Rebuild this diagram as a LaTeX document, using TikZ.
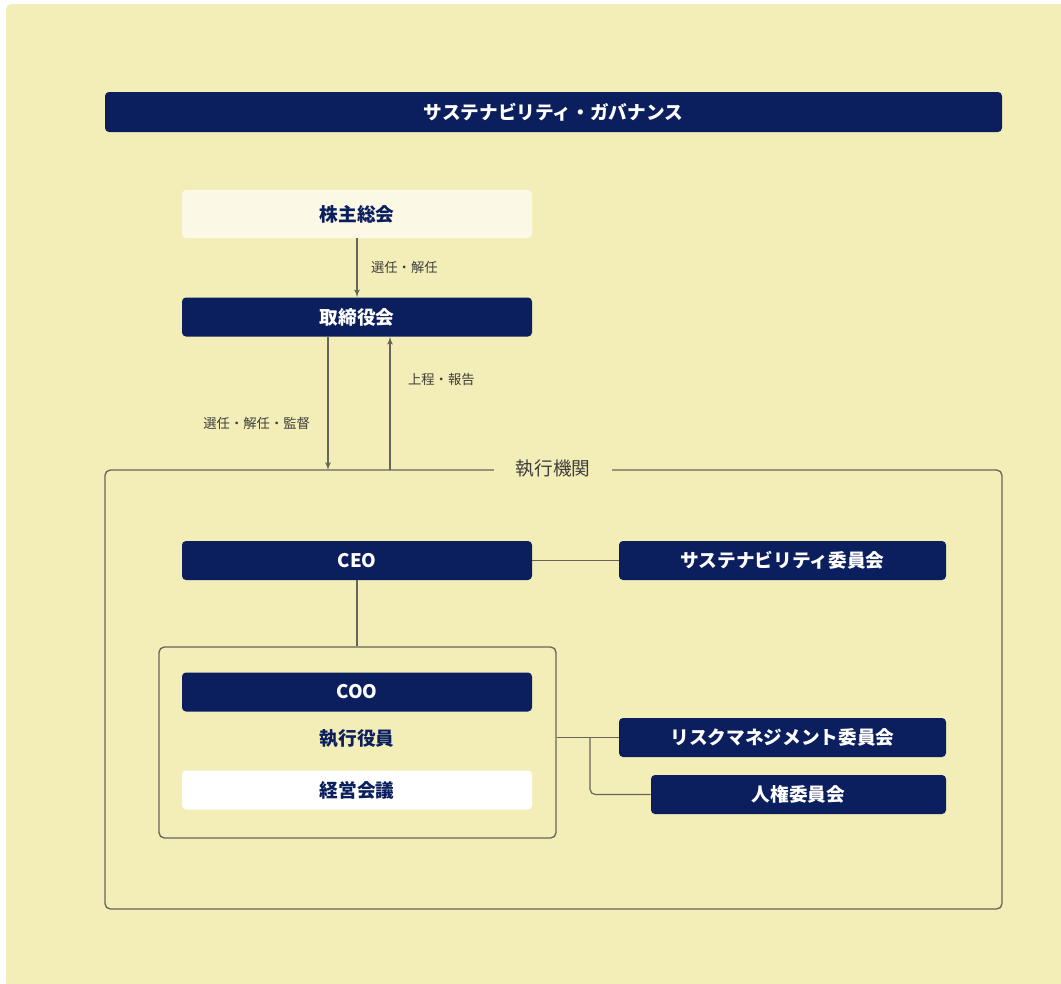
\documentclass[tikz,border=0pt]{standalone}
\usepackage{fontspec}
\setmainfont{Noto Sans CJK JP}
\usetikzlibrary{shapes,arrows,positioning}

\definecolor{navy}{HTML}{0B1F5E}
\definecolor{panel}{HTML}{F3EEB7}
\definecolor{cream}{HTML}{FBF8E6}
\definecolor{wire}{HTML}{66655A}
\definecolor{note}{HTML}{3E3E3C}

\begin{document}
\begin{tikzpicture}[x=0.75pt, y=-0.75pt, auto]

    % Define block styles
    \tikzstyle{block} = [rectangle, fill=navy, text=white, font=\bfseries\fontsize{14}{16}\selectfont,
        rounded corners=3pt, minimum width=262.5pt, minimum height=29.25pt, inner sep=0pt]
    \tikzstyle{light} = [block, fill=cream, text=navy]
    \tikzstyle{frame} = [rectangle, draw=wire, line width=1pt, rounded corners=4pt, inner sep=0pt]
    \tikzstyle{line} = [draw=wire, line width=1pt, -latex']
    \tikzstyle{link} = [draw=wire, line width=0.9pt]
    \tikzstyle{lbl} = [font=\fontsize{10}{12}\selectfont, text=note, inner sep=0pt]

    % Background
    \useasboundingbox (0,0) rectangle (1061,983);
    \fill[white] (0,0) rectangle (1061,983);
    \fill[panel, rounded corners=4pt] (6,4) rectangle (1066,988);

    % Place nodes
    \node [block, minimum width=672.75pt, minimum height=30pt] (title) at (553.5,112) {サステナビリティ・ガバナンス};
    \node [light, minimum height=36pt] (agm) at (357,214) {株主総会};
    \node [block] (board) at (357,317) {取締役会};

    \node [frame, minimum width=672.75pt, minimum height=329.25pt] (exec) at (553.5,689.5) {};
    \node [fill=panel, inner xsep=16pt, inner ysep=2pt, text=note, font=\fontsize{14}{16}\selectfont] (execlbl) at (553,469) {執行機関};

    \node [block] (ceo) at (357,560.5) {CEO};
    \node [block, minimum width=245.25pt] (sus) at (782.5,560.5) {サステナビリティ委員会};

    \node [frame, minimum width=297.75pt, minimum height=143.25pt] (officers) at (357.5,742.5) {};
    \node [block] (coo) at (357,692) {COO};
    \node [text=navy, font=\bfseries\fontsize{14}{16}\selectfont] (offlbl) at (357,739) {執行役員};
    \node [light, fill=white] (mgmt) at (357,790) {経営会議};

    \node [block, minimum width=245.25pt] (risk) at (782.5,737.5) {リスクマネジメント委員会};
    \node [block, minimum width=221.25pt] (hr) at (798.5,794.5) {人権委員会};

    \coordinate (down) at (328,470);
    \coordinate (up) at (390,470);
    \coordinate (split) at (590,737.5);

    % Draw edges
    \path [line] (agm) -- node [lbl, anchor=west, xshift=10pt] {選任・解任} (board);
    \path [line] (board.south -| down) -- node [lbl, anchor=east, pos=0.65, xshift=-13pt] {選任・解任・監督} (down);
    \path [line] (up) -- node [lbl, anchor=west, pos=0.68, xshift=13pt] {上程・報告} (board.south -| up);
    \path [link] (ceo) -- (sus);
    \path [link] (ceo) -- (ceo |- officers.north);
    \path [link] (risk.west -| officers.east) -- (risk.west);
    \path [link, rounded corners=4pt] (split) |- (hr.west);

\end{tikzpicture}
\end{document}
